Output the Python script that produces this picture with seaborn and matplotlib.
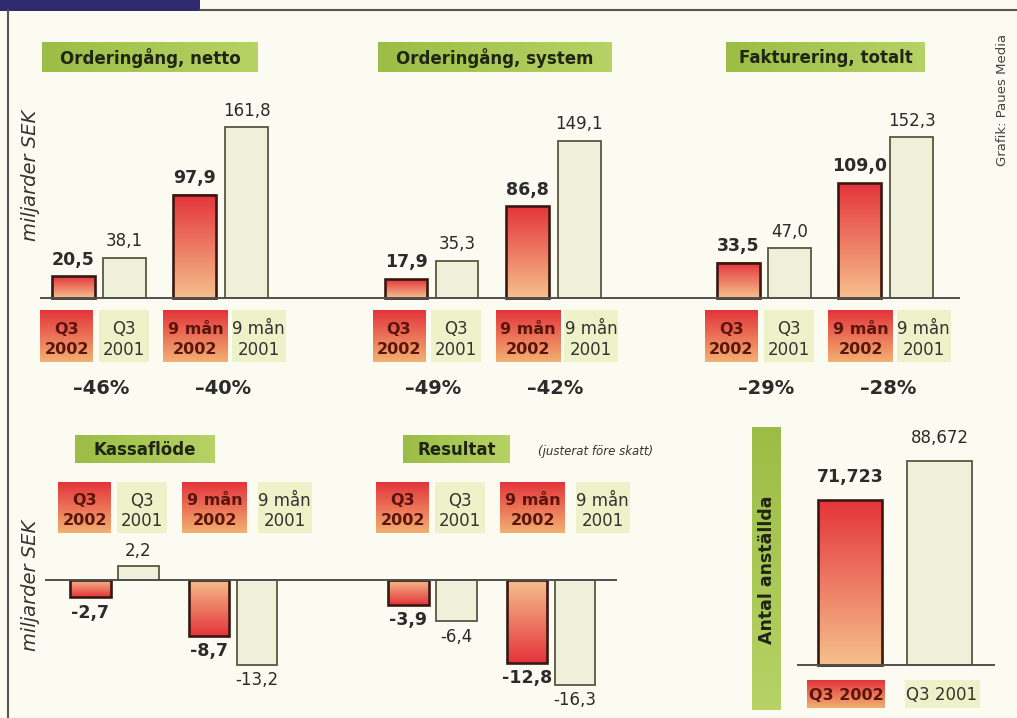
import numpy as np
import pandas as pd
import matplotlib
matplotlib.use("Agg")
import matplotlib.pyplot as plt
from matplotlib.colors import to_rgb
from matplotlib.patches import Rectangle
import seaborn as sns

# ---------------------------------------------------------------- data
period_lines = [("Q3", "2002"), ("Q3", "2001"), ("9 mån", "2002"), ("9 mån", "2001")]
period_kind = ["cur", "prev", "cur", "prev"]

order_net = [20.5, 38.1, 97.9, 161.8]
order_system = [17.9, 35.3, 86.8, 149.1]
invoicing = [33.5, 47.0, 109.0, 152.3]
cash_flow = [-2.7, 2.2, -8.7, -13.2]
result_adj = [-3.9, -6.4, -12.8, -16.3]

# change versus the same period a year earlier, per cent (Q3, 9 mån)
change_order_net = [-46, -40]
change_order_system = [-49, -42]
change_invoicing = [-29, -28]

staff_labels = ["Q3 2002", "Q3 2001"]
staff_kind = ["cur", "prev"]
staff = [71723, 88672]

top_titles = ["Orderingång, netto", "Orderingång, system", "Fakturering, totalt"]
bottom_titles = ["Kassaflöde", "Resultat"]

# ---------------------------------------------------------------- style
sns.set_theme(style="white")
plt.rcParams["font.family"] = ["DejaVu Sans"]

W, H = 1017, 718
BG = "#fbfbf1"
RED_TOP = "#e4343b"
RED_BOT = "#f6c08c"
PALE = "#f2f4d6"
PALE_BOX = "#eef2c8"
RED_EDGE = "#3a1812"
PALE_EDGE = "#5a5640"
GREEN_L = "#9bbd45"
GREEN_R = "#b7d265"
INK = "#2b2b2b"
RED_INK = "#5a160c"

fig = plt.figure(figsize=(W / 100, H / 100), dpi=100, facecolor=BG)

# full-figure layer in pixel units for frames, boxes and captions
ov = fig.add_axes([0, 0, 1, 1], zorder=0)
ov.set_facecolor(BG)
ov.axis("off")


def gradient(ax, x0, x1, y0, y1, c0, c1, horizontal=False, zorder=1):
    """Linear colour ramp from c0 (at x0 / y0) to c1 (at x1 / y1)."""
    t = np.linspace(0, 1, 160)
    a, b = np.array(to_rgb(c0)), np.array(to_rgb(c1))
    cols = a[None, :] * (1 - t[:, None]) + b[None, :] * t[:, None]
    img = cols[None, :, :] if horizontal else cols[:, None, :]
    ax.imshow(img, extent=[x0, x1, y0, y1], origin="lower", aspect="auto",
              interpolation="bilinear", zorder=zorder)


def fmt(v):
    return f"{v:.1f}".replace(".", ",")


def panel(left, right, top, bottom, c0, unit, base, ppv):
    ax = fig.add_axes([left / W, 1 - bottom / H, (right - left) / W, (bottom - top) / H],
                      zorder=2)
    ax.set_facecolor("none")
    spec = dict(xlim=((left - c0) / unit, (right - c0) / unit),
                ylim=((base - bottom) / ppv, (base - top) / ppv))
    return ax, spec


def bars(ax, spec, slots, values, kinds, width, label_off, bold_size=12.5, reg_size=12,
         fmt_fn=fmt):
    df = pd.DataFrame({"pos": slots, "value": values, "kind": kinds})
    sns.barplot(data=df, x="pos", y="value", hue="kind", native_scale=True,
                dodge=False, width=width, errorbar=None, legend=False,
                palette={"cur": RED_TOP, "prev": PALE}, ax=ax)
    for p in list(ax.patches):
        x0, w, h = p.get_x(), p.get_width(), p.get_height()
        if p.get_facecolor()[1] < 0.5:
            gradient(ax, x0, x0 + w, 0, h, RED_BOT, RED_TOP, zorder=2)
            p.set_facecolor("none")
            p.set_edgecolor(RED_EDGE)
            p.set_linewidth(1.9)
        else:
            p.set_edgecolor(PALE_EDGE)
            p.set_linewidth(1.3)
        p.set_zorder(3)
    for s, v, k in zip(slots, values, kinds):
        up = v >= 0
        ax.annotate(fmt_fn(v), (s, v), xytext=(0, label_off if up else -label_off),
                    textcoords="offset points", ha="center",
                    va="bottom" if up else "top",
                    fontsize=bold_size if k == "cur" else reg_size,
                    fontweight="bold" if k == "cur" else "normal",
                    color=INK, zorder=4)
    ax.axhline(0, color="#505050", lw=1.4, zorder=4)
    ax.set_xlim(*spec["xlim"])
    ax.set_ylim(*spec["ylim"])
    ax.set_xlabel("")
    ax.set_ylabel("")
    ax.set_xticks([])
    ax.set_yticks([])
    sns.despine(ax=ax, left=True, bottom=True)


def title_box(x0, x1, y0, y1, text, vertical=False, size=12):
    gradient(ov, x0, x1, y0, y1, GREEN_L, GREEN_R, horizontal=not vertical)
    ov.text((x0 + x1) / 2, (y0 + y1) / 2 + 1, text, ha="center", va="center",
            fontsize=size, fontweight="bold", color="#1f2414",
            rotation=90 if vertical else 0)


def period_box(cx, y0, y1, lines, kind, w):
    if kind == "cur":
        gradient(ov, cx - w / 2, cx + w / 2, y0, y1, RED_TOP, "#f2b072")
        color, weight, size = RED_INK, "bold", 11.5
    else:
        ov.add_patch(Rectangle((cx - w / 2, y0), w, y1 - y0, color=PALE_BOX, lw=0))
        color, weight, size = "#333333", "normal", 12
    h = y1 - y0
    ys = [y0 + h * 0.37, y0 + h * 0.76] if len(lines) == 2 else [y0 + h / 2 + 1]
    for yy, ln in zip(ys, lines):
        ov.text(cx, yy, ln, ha="center", va="center", fontsize=size,
                fontweight=weight, color=color)


# label-box layout: centre offsets from the first box and box widths (px)
box_offsets_top = [0, 57, 129, 192]
box_offsets_bot = [0, 57, 130, 200]
box_widths = [53, 50, 65, 54]

# ---------------------------------------------------------------- top row
top_slots = [0, 1, 2.38, 3.4]
top_geom = [(40, 360, 73.5), (360, 690, 406), (690, 960, 738.5)]
top_series = [order_net, order_system, invoicing]
top_changes = [change_order_net, change_order_system, change_invoicing]
top_title_boxes = [(42, 258), (378, 612), (726, 925)]

for (left, right, c0), vals, chg, title, (tx0, tx1) in zip(
        top_geom, top_series, top_changes, top_titles, top_title_boxes):
    ax, spec = panel(left, right, 95, 306, c0, 51, 298, 1.055)
    bars(ax, spec, top_slots, vals, period_kind, 0.84, 5.5)
    title_box(tx0, tx1, 42, 72, title)
    first = c0 - 7
    centers = [first + o for o in box_offsets_top]
    for cx, lines, kind, w in zip(centers, period_lines, period_kind, box_widths):
        period_box(cx, 310, 362, lines, kind, w)
    bar_c = [c0 + s * 51 for s in top_slots]
    for i, c in zip((0, 2), chg):
        ov.text((bar_c[i] + bar_c[i + 1]) / 2 + 2, 388, f"–{abs(c)}%",
                ha="center", va="center", fontsize=14, fontweight="bold", color=INK)

# ---------------------------------------------------------------- bottom row
bot_slots = [0, 1, 2.47, 3.47]
bot_geom = [(45, 360, 90.5), (360, 617, 408.5)]
bot_series = [cash_flow, result_adj]
bot_title_boxes = [(75, 215), (403, 510)]

for (left, right, c0), vals, title, (tx0, tx1) in zip(bot_geom, bot_series, bottom_titles,
                                                   bot_title_boxes):
    ax, spec = panel(left, right, 530, 705, c0, 48, 580, 6.45)
    bars(ax, spec, bot_slots, vals, period_kind, 0.84, 4.5)
    title_box(tx0, tx1, 435, 463, title)
    first = c0 - 6
    centers = [first + o for o in box_offsets_bot]
    for cx, lines, kind, w in zip(centers, period_lines, period_kind, box_widths):
        period_box(cx, 482, 533, lines, kind, w)

ov.text(538, 452, "(justerat före skatt)", ha="left", va="center", fontsize=8.5,
        style="italic", color="#333333")

# ---------------------------------------------------------------- staff
ax, spec = panel(797, 995, 425, 672, 850, 89.5, 665, 0.0023)
bars(ax, spec, [0, 1], staff, staff_kind, 0.72, 10, fmt_fn=lambda v: f"{v:,}")
title_box(752, 781, 427, 710, "Antal anställda", vertical=True, size=12.5)
for cx, lab, kind, w in zip([846, 942], staff_labels, staff_kind, [78, 75]):
    period_box(cx, 680, 708, [lab], kind, w)

# ---------------------------------------------------------------- frame & captions
ov.add_patch(Rectangle((0, 0), 200, 11, color="#2f2a6e", lw=0))
ov.plot([8, 8], [10, H], color="#555555", lw=1.5)
ov.plot([200, W], [10, 10], color="#555555", lw=1.5)
for yc in (175, 585):
    ov.text(30, yc, "miljarder SEK", rotation=90, ha="center", va="center",
            fontsize=14, style="italic", color="#333333")
ov.text(1003, 100, "Grafik: Paues Media", rotation=90, ha="center", va="center",
        fontsize=9.5, color="#444444")

ov.set_xlim(0, W)
ov.set_ylim(H, 0)

fig.savefig("out.png", dpi=100, facecolor=BG)
